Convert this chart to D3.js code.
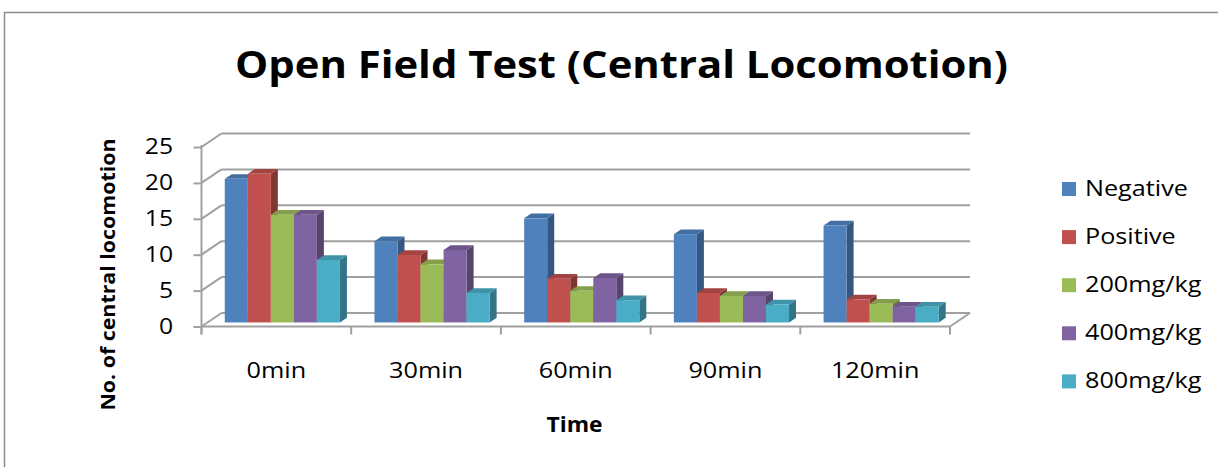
<!DOCTYPE html>
<html>
<head>
<meta charset="utf-8">
<script src="https://cdn.jsdelivr.net/npm/d3@7"></script>
<style>
  body { margin: 0; background: #fff; }
  svg { display: block; }
  text { font-family: "Open Sans", "DejaVu Sans", sans-serif; fill: #000; }
</style>
</head>
<body>
<svg id="chart" width="1218" height="467"></svg>
<script>
// ---- data ----
const categories = ["0min", "30min", "60min", "90min", "120min"];
const seriesNames = ["Negative", "Positive", "200mg/kg", "400mg/kg", "800mg/kg"];
const negative = [20.0, 11.3, 14.5, 12.3, 13.5];
const positive = [20.7, 9.4, 6.1, 4.1, 3.2];
const dose200  = [15.0, 8.1, 4.4, 3.7, 2.6];
const dose400  = [15.0, 10.1, 6.2, 3.7, 2.2];
const dose800  = [8.7, 4.1, 3.1, 2.5, 2.2];
const yTicks = [0, 5, 10, 15, 20, 25];

const seriesValues = [negative, positive, dose200, dose400, dose800];
const seriesColors = ["#4F81BD", "#C0504D", "#9BBB59", "#8064A2", "#4BACC6"];

// ---- layout ----
const svg = d3.select("#chart");
const gridColor = "#a0a0a0";
const depth = { dx: 20, dy: -13.5 };      // oblique offset of the back wall
const barDepth = [0.3, 0.65];             // bars sit in this slice of the depth
const xStretch = 1.2;                     // horizontal widening applied to labels

const x = d3.scaleBand().domain(categories).range([201.5, 950]).paddingInner(0).paddingOuter(0);
const xs = d3.scaleBand().domain(seriesNames).range([0, x.bandwidth()]).paddingInner(0).paddingOuter(0.75);
const y = d3.scaleLinear().domain([0, 25]).range([326.5, 147]);

function stretch(sel, k) {
  sel.each(function () {
    const w = this.getComputedTextLength();
    this.setAttribute("textLength", w * k);
    this.setAttribute("lengthAdjust", "spacingAndGlyphs");
  });
}

// outer chart frame
svg.append("rect")
  .attr("x", 4.5).attr("y", 12.5).attr("width", 1240).attr("height", 480)
  .attr("fill", "none").attr("stroke", "#8c8c8c").attr("stroke-width", 1.5);

// title
svg.append("text")
  .attr("x", 621.5).attr("y", 78)
  .attr("text-anchor", "middle")
  .attr("font-size", 37).attr("font-weight", 700)
  .attr("textLength", 773).attr("lengthAdjust", "spacingAndGlyphs")
  .text("Open Field Test (Central Locomotion)");

const x0 = x.range()[0], x1 = x.range()[1];
const walls = svg.append("g").attr("stroke", gridColor).attr("stroke-width", 2).attr("fill", "none");

// back-wall gridlines and left-wall diagonals
yTicks.forEach(v => {
  walls.append("line")
    .attr("x1", x0 + depth.dx).attr("x2", x1 + depth.dx)
    .attr("y1", y(v) + depth.dy).attr("y2", y(v) + depth.dy);
  walls.append("line")
    .attr("x1", x0).attr("y1", y(v))
    .attr("x2", x0 + depth.dx).attr("y2", y(v) + depth.dy);
});

// floor: front edge and right edge
walls.append("line").attr("x1", x0).attr("x2", x1).attr("y1", y(0)).attr("y2", y(0));
walls.append("line").attr("x1", x1).attr("y1", y(0)).attr("x2", x1 + depth.dx).attr("y2", y(0) + depth.dy);

// category boundary ticks
const bounds = categories.map(c => x(c)).concat([x1]);
bounds.forEach(bx => {
  walls.append("line").attr("x1", bx).attr("x2", bx).attr("y1", y(0)).attr("y2", y(0) + 8);
});

// value axis
const yAxis = d3.axisLeft(y).tickValues(yTicks).tickSize(8).tickSizeOuter(0).tickPadding(20.5);
const gy = svg.append("g").attr("transform", `translate(${x0},0)`).call(yAxis);
gy.select(".domain").attr("stroke", gridColor).attr("stroke-width", 2)
  .attr("d", `M0,${y(25) - 2}V${y(0) + 8}`);
gy.selectAll(".tick line").attr("stroke", gridColor).attr("stroke-width", 2);
gy.selectAll(".tick text")
  .attr("font-family", null).attr("font-size", 21).attr("fill", "#000")
  .call(stretch, xStretch * 0.98);

// bars
const bars = svg.append("g");
const d0 = barDepth[0], d1 = barDepth[1];
categories.forEach((cat, ci) => {
  seriesNames.forEach((name, si) => {
    const v = seriesValues[si][ci];
    const base = d3.color(seriesColors[si]);
    const fx = x(cat) + xs(name) + d0 * depth.dx;
    const w = xs.bandwidth();
    const top = y(v) + d0 * depth.dy;
    const bot = y(0) + d0 * depth.dy;
    const ddx = (d1 - d0) * depth.dx, ddy = (d1 - d0) * depth.dy;
    const g = bars.append("g");
    // right side
    g.append("path")
      .attr("d", `M${fx + w},${top}L${fx + w + ddx},${top + ddy}L${fx + w + ddx},${bot + ddy}L${fx + w},${bot}Z`)
      .attr("fill", base.darker(1.1).formatHex());
    // top
    g.append("path")
      .attr("d", `M${fx},${top}L${fx + ddx},${top + ddy}L${fx + w + ddx},${top + ddy}L${fx + w},${top}Z`)
      .attr("fill", base.darker(0.45).formatHex());
    // front
    g.append("rect")
      .attr("x", fx).attr("y", top).attr("width", w).attr("height", bot - top)
      .attr("fill", base.formatHex());
  });
});

// category labels
const xAxis = d3.axisBottom(x).tickSize(0).tickPadding(0);
const gx = svg.append("g").attr("transform", `translate(0,0)`).call(xAxis);
gx.select(".domain").remove();
gx.selectAll(".tick text")
  .attr("font-family", null).attr("font-size", 21).attr("fill", "#000")
  .attr("y", 378).attr("dy", null)
  .call(stretch, xStretch);

// axis titles
svg.append("text")
  .attr("x", 574.5).attr("y", 431.5)
  .attr("text-anchor", "middle").attr("font-size", 21).attr("font-weight", 700)
  .attr("textLength", 56).attr("lengthAdjust", "spacingAndGlyphs")
  .text("Time");

svg.append("text")
  .attr("transform", "translate(115,274.5) rotate(-90)")
  .attr("text-anchor", "middle").attr("font-size", 20).attr("font-weight", 700)
  .attr("textLength", 272).attr("lengthAdjust", "spacingAndGlyphs")
  .text("No. of central locomotion");

// legend
const legend = svg.append("g").attr("transform", "translate(1062,196)");
const items = legend.selectAll("g").data(seriesNames).join("g")
  .attr("transform", (d, i) => `translate(0,${i * 48.1})`);
items.append("rect")
  .attr("x", 0).attr("y", -14).attr("width", 14).attr("height", 14)
  .attr("fill", (d, i) => seriesColors[i]);
items.append("text")
  .attr("x", 23).attr("y", 0)
  .attr("font-size", 21)
  .text(d => d)
  .call(stretch, xStretch);
</script>
</body>
</html>
